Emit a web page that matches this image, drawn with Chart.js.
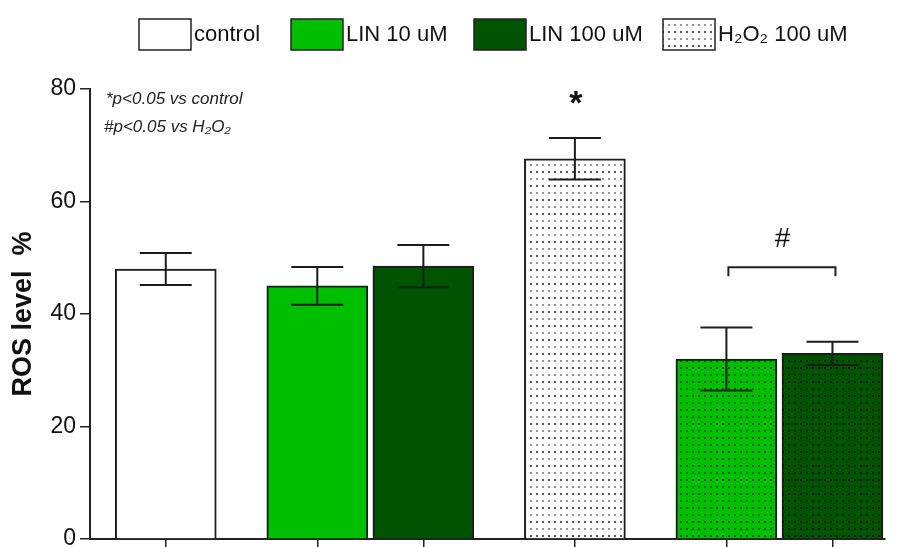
<!DOCTYPE html>
<html>
<head>
<meta charset="utf-8">
<script src="https://cdn.jsdelivr.net/npm/chart.js@4"></script>
<style>
  html, body { margin: 0; padding: 0; background: #fff; }
</style>
</head>
<body>
<canvas id="ros" width="899" height="547"></canvas>
<script>
// data
const groups = ['control', 'LIN 10 uM', 'LIN 100 uM', 'H2O2 100 uM', 'LIN 10 uM + H2O2', 'LIN 100 uM + H2O2'];
const rosMean = [48.0, 45.0, 48.5, 67.6, 32.0, 33.0];
const rosSem = [2.85, 3.35, 3.75, 3.7, 5.6, 2.05];
const yTicks = [0, 20, 40, 60, 80];
const legendNames = ['control', 'LIN 10 uM', 'LIN 100 uM', 'H\u2082O\u2082 100 uM'];
const notes = ['*p<0.05 vs control', '#p<0.05 vs H\u2082O\u2082'];

// layout: where each bar sits along x (in bar widths), legend boxes, significance marks
const barSlot = [0.75, 2.25, 3.30, 4.80, 6.30, 7.35];
const legendX = [139, 291, 474, 663];
const bracketLevel = 48.3;

const FONT = "'Liberation Sans', Arial, sans-serif";
Chart.defaults.font.family = FONT;
Chart.defaults.color = '#111';

function dots(bg, dot1, dot2) {
    const c = document.createElement('canvas');
    c.width = 6; c.height = 14;
    const g = c.getContext('2d');
    g.fillStyle = bg;
    g.fillRect(0, 0, 6, 14);
    g.fillStyle = dot1;
    g.fillRect(2, 3, 2, 2);
    g.fillStyle = dot2;
    g.fillRect(2, 10, 2, 2);
    return g.createPattern(c, 'repeat');
}

const green = '#00bf00';
const darkGreen = '#005400';
const fills = [
    '#ffffff', green, darkGreen,
    dots('#ffffff', '#555', '#999'),
    dots(green, 'rgba(0,40,0,0.75)', 'rgba(0,40,0,0.55)'),
    dots(darkGreen, 'rgba(0,0,0,0.8)', 'rgba(0,0,0,0.6)')
];
const legendFills = fills.slice(0, 4);

// error bars (mean +/- SEM)
const errorBars = {
    id: 'errorBars',
    afterDatasetsDraw(chart) {
        const ctx = chart.ctx;
        const y = chart.scales.y;
        const meta = chart.getDatasetMeta(0);
        ctx.save();
        ctx.strokeStyle = '#1c1c1c';
        ctx.lineWidth = 2;
        meta.data.forEach((bar, i) => {
            const top = y.getPixelForValue(rosMean[i] + rosSem[i]);
            const bot = y.getPixelForValue(rosMean[i] - rosSem[i]);
            ctx.beginPath();
            ctx.moveTo(bar.x, top); ctx.lineTo(bar.x, bot);
            ctx.moveTo(bar.x - 26, top); ctx.lineTo(bar.x + 26, top);
            ctx.moveTo(bar.x - 26, bot); ctx.lineTo(bar.x + 26, bot);
            ctx.stroke();
        });
        ctx.restore();
    }
};

// star, hash + bracket and the note in the corner
const marks = {
    id: 'marks',
    afterDatasetsDraw(chart) {
        const ctx = chart.ctx;
        const y = chart.scales.y;
        const bars = chart.getDatasetMeta(0).data;
        ctx.save();
        ctx.fillStyle = '#111';
        ctx.textAlign = 'center';
        ctx.textBaseline = 'alphabetic';

        ctx.font = 'bold 34px ' + FONT;
        ctx.fillText('*', bars[3].x + 1, y.getPixelForValue(rosMean[3] + rosSem[3]) - 24);

        const by = y.getPixelForValue(bracketLevel);
        ctx.strokeStyle = '#222';
        ctx.lineWidth = 2;
        ctx.beginPath();
        ctx.moveTo(bars[4].x + 2, by + 9);
        ctx.lineTo(bars[4].x + 2, by);
        ctx.lineTo(bars[5].x + 3, by);
        ctx.lineTo(bars[5].x + 3, by + 9);
        ctx.stroke();
        ctx.font = '28px ' + FONT;
        ctx.fillText('#', (bars[4].x + bars[5].x) / 2 + 3, by - 20);

        ctx.textAlign = 'left';
        ctx.fillStyle = '#222';
        ctx.font = 'italic 17px ' + FONT;
        ctx.fillText(notes[0], 106, 104);
        ctx.fillText(notes[1], 104, 132);
        ctx.restore();
    }
};

// legend row across the top
const topLegend = {
    id: 'topLegend',
    afterDraw(chart) {
        const ctx = chart.ctx;
        ctx.save();
        ctx.font = '22px ' + FONT;
        ctx.textBaseline = 'middle';
        ctx.textAlign = 'left';
        legendNames.forEach((name, i) => {
            const x = legendX[i];
            ctx.fillStyle = legendFills[i];
            ctx.fillRect(x, 19, 52, 31);
            ctx.strokeStyle = '#222';
            ctx.lineWidth = 1.5;
            ctx.strokeRect(x, 19, 52, 31);
            ctx.fillStyle = '#111';
            ctx.fillText(name, x + 55, 35);
        });
        ctx.restore();
    }
};

new Chart(document.getElementById('ros'), {
    type: 'bar',
    data: {
        labels: groups,
        datasets: [{
            label: 'ROS level %',
            data: rosMean.map((v, i) => ({ x: barSlot[i], y: v })),
            backgroundColor: fills,
            borderColor: '#1c1c1c',
            borderWidth: 2,
            barThickness: 101
        }]
    },
    options: {
        responsive: false,
        animation: false,
        layout: { padding: { top: 89, right: 14, left: 0, bottom: 0 } },
        plugins: {
            legend: { display: false },
            tooltip: { enabled: false }
        },
        scales: {
            x: {
                type: 'linear',
                min: 0,
                max: 7.87,
                offset: false,
                grid: { offset: false, drawOnChartArea: false, tickLength: 10, color: '#222', lineWidth: 1.5 },
                border: { color: '#222', width: 2 },
                ticks: { callback: () => '' },
                afterBuildTicks: s => { s.ticks = barSlot.map(v => ({ value: v })); },
                afterFit: s => { s.height = 8; }
            },
            y: {
                min: 0,
                max: 80,
                ticks: { color: '#111', font: { size: 23 }, padding: 4 },
                afterBuildTicks: s => { s.ticks = yTicks.map(v => ({ value: v })); },
                grid: { drawOnChartArea: false, tickLength: 10, color: '#222', lineWidth: 1.5 },
                border: { color: '#222', width: 2 },
                title: {
                    display: true,
                    text: 'ROS level  %',
                    color: '#111',
                    font: { size: 27, weight: 'bold' },
                    padding: { top: 7 }
                },
                afterFit: s => { s.width = 90; s.paddingBottom = 0; }
            }
        }
    },
    plugins: [errorBars, marks, topLegend]
});
</script>
</body>
</html>
